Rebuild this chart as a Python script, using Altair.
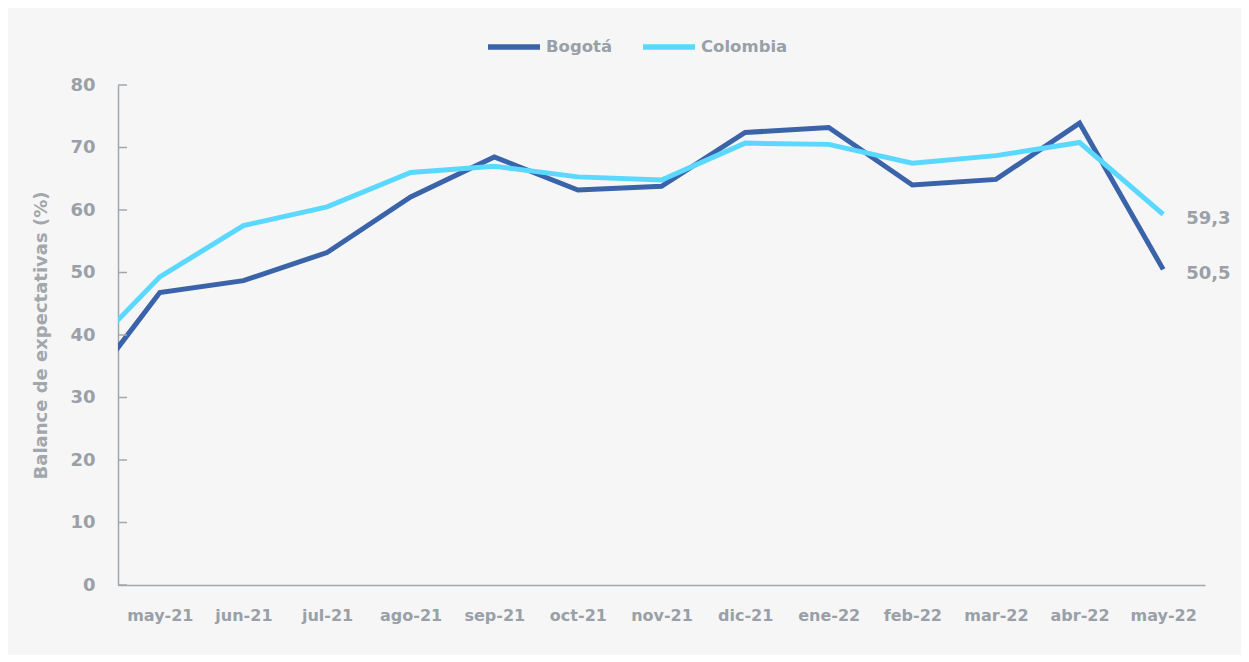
import altair as alt
import pandas as pd

# First entry (abr-21) lies just outside the visible range; only its segment toward may-21 shows
months = ["abr-21", "may-21", "jun-21", "jul-21", "ago-21", "sep-21", "oct-21",
          "nov-21", "dic-21", "ene-22", "feb-22", "mar-22", "abr-22", "may-22"]
bogota = [29.2, 46.8, 48.7, 53.2, 62.1, 68.5, 63.2, 63.8, 72.4, 73.2, 64.0, 64.9, 73.9, 50.5]
colombia = [35.5, 49.3, 57.5, 60.5, 66.0, 67.0, 65.3, 64.8, 70.7, 70.5, 67.5, 68.7, 70.8, 59.3]
series = ["Bogotá", "Colombia"]
colors = ["#3A63A9", "#5AD8FF"]
y_ticks = [0, 10, 20, 30, 40, 50, 60, 70, 80]

GRAY = "#9AA0A7"
AXIS = "#A3A7AC"
FONT = "DejaVu Sans"

rows = []
for i, m in enumerate(months):
    rows.append({"idx": i - 1, "mes": m, "serie": series[0], "valor": bogota[i]})
    rows.append({"idx": i - 1, "mes": m, "serie": series[1], "valor": colombia[i]})
df = pd.DataFrame(rows)

last = df[df["idx"] == len(months) - 2].copy()
last["etiqueta"] = last["valor"].map(lambda v: f"{v:.1f}".replace(".", ","))

visible = months[1:]
label_expr = "[" + ",".join(f"'{m}'" for m in visible) + "][datum.value]"

x_enc = alt.X(
    "idx:Q",
    scale=alt.Scale(domain=[-0.5, len(visible) - 0.5], nice=False, zero=False),
    axis=alt.Axis(
        values=list(range(len(visible))), labelExpr=label_expr, ticks=False, tickSize=0,
        grid=False, title=None, labelFlush=False, labelOverlap=False,
        labelFont=FONT, labelFontSize=16, labelFontWeight="bold", labelColor=GRAY,
        labelPadding=22, domainColor=AXIS, domainWidth=1.5,
    ),
)
y_enc = alt.Y(
    "valor:Q",
    scale=alt.Scale(domain=[0, 80], nice=False),
    axis=alt.Axis(
        values=y_ticks, ticks=False, tickSize=0, grid=False,
        title="Balance de expectativas (%)", titleFont=FONT, titleFontSize=18,
        titleFontWeight="bold", titleColor="#A2A7AD", titleX=-77, titleY=250,
        titleAlign="center", titleBaseline="middle", titleAngle=270,
        labelFont=FONT, labelFontSize=18, labelFontWeight="bold", labelColor=GRAY,
        labelPadding=23, domainColor=AXIS, domainWidth=1.5,
    ),
)

lines = alt.Chart(df).mark_line(strokeWidth=5, clip=True).encode(
    x=x_enc,
    y=y_enc,
    color=alt.Color(
        "serie:N",
        scale=alt.Scale(domain=series, range=colors),
        legend=alt.Legend(
            orient="none", legendX=367, legendY=-67, direction="horizontal", title=None,
            symbolType="stroke", symbolSize=2704, symbolStrokeWidth=5.5,
            labelFont=FONT, labelFontSize=16.5, labelFontWeight="bold", labelColor=GRAY,
            columnPadding=19, labelOffset=3, padding=0,
        ),
    ),
    order="idx:Q",
)

ticks = alt.Chart(pd.DataFrame({"v": y_ticks})).mark_rule(color=AXIS, strokeWidth=1.5).encode(
    y=alt.Y("v:Q", scale=alt.Scale(domain=[0, 80], nice=False)),
    x=alt.value(0),
    x2=alt.value(9),
)

labels = alt.Chart(last).mark_text(
    align="left", baseline="middle", dx=23, dy=5,
    font=FONT, fontSize=18, fontWeight="bold", color=GRAY,
).encode(x="idx:Q", y="valor:Q", text="etiqueta:N")

chart = alt.layer(lines, ticks, labels).properties(
    width=1087, height=500,
    autosize=alt.AutoSizeParams(type="none"),
    padding={"left": 110, "top": 77, "right": 36, "bottom": 70},
    background="#F6F6F6",
).configure_view(stroke=None)

chart.save("out.html", embed_options={"renderer": "svg", "actions": False})
